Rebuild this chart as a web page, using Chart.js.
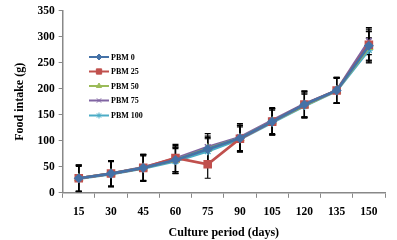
<!DOCTYPE html>
<html><head><meta charset="utf-8">
<script src="https://cdn.jsdelivr.net/npm/chart.js@4/dist/chart.umd.min.js"></script>
<style>html,body{margin:0;padding:0;background:#fff}#wrap{width:397px;height:240px}</style>
</head><body><div id="wrap"><canvas id="c" width="397" height="240"></canvas></div>
<script>
const categories = ["15","30","45","60","75","90","105","120","135","150"];
const seriesNames = ["PBM 0","PBM 25","PBM 50","PBM 75","PBM 100"];
const pbm0   = [28,37,48,63,84,105,137,170,197,283];
const pbm25  = [28,37,48,67,55,104,137,170,197,285];
const pbm50  = [28,37,48,63,85,105,137,168,197,280];
const pbm75  = [28,37,49,66,88,107,139,171,197,292];
const pbm100 = [27,36,47,61,80,103,135,167,196,275];
const err0   = [25,24,25,25,22,25,25,24,24,28];
const err25  = [26,25,26,26,27,26,25,25,25,30];
const err50  = [25,24,25,25,24,25,25,24,24,30];
const err75  = [25,25,25,25,26,26,25,25,25,26];
const err100 = [24,24,24,24,24,24,24,23,24,23];
const yTicks = [0,50,100,150,200,250,300,350];

const colors = ["#4572A7","#C0504D","#9BBB59","#8064A2","#4BACC6"];
const styles = ["rectRot","rect","triangle","crossRot","star"];
const radii = [4,5,4,4,4];
const values = [pbm0,pbm25,pbm50,pbm75,pbm100];
const errors = [err0,err25,err50,err75,err100];

const datasets = seriesNames.map((n,i)=>({
  label:n, data:values[i], errs:errors[i],
  borderColor:colors[i], backgroundColor:colors[i],
  borderWidth:2.7, pointStyle:styles[i], pointRadius:radii[i],
  pointBorderColor:colors[i], pointBackgroundColor:colors[i], pointBorderWidth:1.5,
  tension:0
}));

const errorBars = {
  id:'errorBars',
  beforeDatasetsDraw(chart){
    const ctx=chart.ctx, y=chart.scales.y, x=chart.scales.x;
    ctx.save(); ctx.strokeStyle='#000'; ctx.lineWidth=1.2;
    chart.data.datasets.forEach(ds=>{
      ds.data.forEach((v,j)=>{
        const e=ds.errs[j]; const px=x.getPixelForValue(j);
        const t=y.getPixelForValue(v+e), b=y.getPixelForValue(Math.max(0,v-e));
        ctx.beginPath(); ctx.moveTo(px,t); ctx.lineTo(px,b);
        ctx.moveTo(px-3,t); ctx.lineTo(px+3,t);
        ctx.moveTo(px-3,b); ctx.lineTo(px+3,b); ctx.stroke();
      });
    });
    ctx.restore();
  }
};

const legendBox = {
  id:'legendBox',
  afterDatasetsDraw(chart){
    const ctx=chart.ctx;
    const x0=89, x1=109, ys=[57,71.5,86,100.5,115.5];
    ctx.save();
    chart.data.datasets.forEach((ds,i)=>{
      const yy=ys[i];
      ctx.strokeStyle=ds.borderColor; ctx.fillStyle=ds.borderColor; ctx.lineWidth=2;
      ctx.beginPath(); ctx.moveTo(x0,yy); ctx.lineTo(x1,yy); ctx.stroke();
      ctx.lineWidth=1;
      Chart.helpers.drawPoint(ctx,{pointStyle:ds.pointStyle,radius:ds.pointRadius*0.75,borderWidth:1},(x0+x1)/2,yy);
      ctx.fillStyle='#000'; ctx.font='bold 8px "Liberation Serif"';
      ctx.textBaseline='middle'; ctx.textAlign='left';
      ctx.fillText(ds.label,x1+2,yy+0.5);
    });
    ctx.restore();
  }
};

Chart.defaults.font.family='"Liberation Serif", "Times New Roman", serif';
new Chart(document.getElementById('c'),{
  type:'line',
  data:{labels:categories, datasets},
  options:{
    responsive:false, animation:false,
    layout:{padding:{left:13,right:12,top:1,bottom:0}},
    plugins:{legend:{display:false},tooltip:{enabled:false}},
    scales:{
      x:{
        offset:true,
        grid:{offset:true,drawOnChartArea:false,tickLength:5,color:'#888'},
        border:{color:'#888',width:1.5},
        ticks:{color:'#000',font:{size:11.5,weight:'bold'},padding:7,maxRotation:0},
        title:{display:true,text:'Culture period (days)',color:'#000',font:{size:12,weight:'bold'},padding:{top:0,bottom:0}}
      },
      y:{
        min:0,max:350,
        afterBuildTicks(s){ s.ticks = yTicks.map(v=>({value:v})); },
        grid:{drawOnChartArea:false,tickLength:4,color:'#888'},
        border:{color:'#888',width:1.5},
        ticks:{color:'#000',font:{size:11.5,weight:'bold'},padding:4},
        title:{display:true,text:'Food intake (g)',color:'#000',font:{size:12,weight:'bold'},padding:{top:0,bottom:6}}
      }
    }
  },
  plugins:[errorBars,legendBox]
});
</script></body></html>
